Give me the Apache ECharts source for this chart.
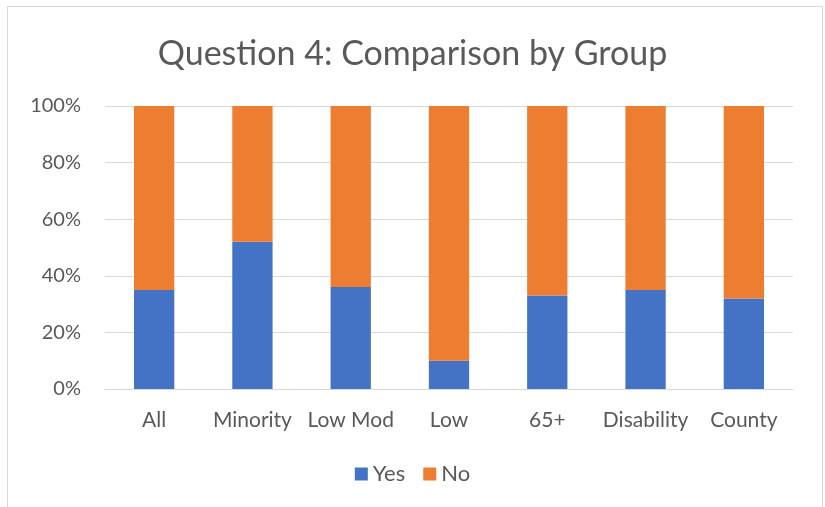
<!DOCTYPE html>
<html>
<head>
<meta charset="utf-8">
<script src="https://cdn.jsdelivr.net/npm/echarts@6/dist/echarts.min.js"></script>
<style>
  html, body { margin: 0; padding: 0; background: #ffffff; }
  #chart { width: 825px; height: 507px; }
</style>
</head>
<body>
<div id="chart"></div>
<script>
// Share of responses to Question 4, per group (percent)
const groups = ['All', 'Minority', 'Low Mod', 'Low', '65+', 'Disability', 'County'];
const yesValues = [35, 52, 36, 10, 33, 35, 32];
const noValues = [65, 48, 64, 90, 67, 65, 68];
const percentTicks = [0, 20, 40, 60, 80, 100];

const textColor = '#595959';
const fontFamily = 'Lato, "Open Sans", sans-serif';

const chart = echarts.init(document.getElementById('chart'), null, { renderer: 'canvas' });
chart.setOption({
  animation: false,
  backgroundColor: '#ffffff',
  graphic: [{
    type: 'rect',
    shape: { x: 7.5, y: 6.5, width: 815, height: 520 },
    style: { fill: 'none', stroke: '#d9d9d9', lineWidth: 1 },
    silent: true
  }],
  title: {
    text: 'Question 4: Comparison by Group',
    left: 'center',
    top: 32,
    textStyle: { color: textColor, fontFamily: fontFamily, fontWeight: 'normal', fontSize: 34 }
  },
  legend: {
    data: ['Yes', 'No'],
    bottom: 17,
    left: 'center',
    itemWidth: 13,
    itemHeight: 13,
    itemGap: 18,
    icon: 'rect',
    textStyle: { color: textColor, fontFamily: fontFamily, fontSize: 22 }
  },
  grid: { left: 105, right: 32, top: 106, bottom: 118, containLabel: false },
  xAxis: {
    type: 'category',
    data: groups,
    axisLine: { lineStyle: { color: '#d9d9d9', width: 1 } },
    axisTick: { show: false },
    axisLabel: { color: textColor, fontFamily: fontFamily, fontSize: 21, margin: 21, interval: 0 }
  },
  yAxis: {
    type: 'value',
    min: percentTicks[0],
    max: percentTicks[percentTicks.length - 1],
    interval: 20,
    axisLine: { show: false },
    axisTick: { show: false },
    splitLine: { lineStyle: { color: '#d9d9d9', width: 1 } },
    axisLabel: { color: textColor, fontFamily: fontFamily, fontSize: 20, margin: 24, formatter: '{value}%' }
  },
  series: [
    {
      name: 'Yes', type: 'bar', stack: 'share', data: yesValues, barWidth: '41%',
      itemStyle: { color: '#4472c4' }
    },
    {
      name: 'No', type: 'bar', stack: 'share', data: noValues, barWidth: '41%',
      itemStyle: { color: '#ed7d31' }
    }
  ]
});
</script>
</body>
</html>
